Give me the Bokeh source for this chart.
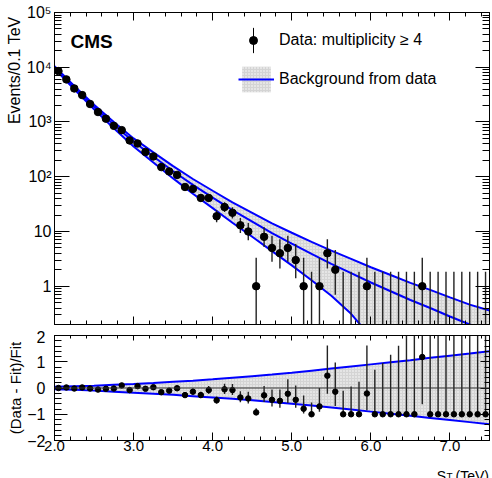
import numpy as np
from bokeh.plotting import figure
from bokeh.models import (Range1d, FixedTicker, LinearAxis, LogAxis, CustomJSTickFormatter,
                          PrintfTickFormatter, Label, Legend, LegendItem, ColumnDataSource, Span,
                          Title)
from bokeh.layouts import column
from bokeh.embed import file_html
from bokeh.resources import INLINE

FONT = "Liberation Sans"

# ---------------- data ----------------
bin_center = np.round(np.arange(2.05, 7.5, 0.1), 2)   # S_T bin centres, 0.1 TeV bins

counts = [8500, 6000, 4100, 3100, 2130, 1520, 1150, 850, 710, 460,
          405, 283, 235, 150, 125, 108, 65, 60, 41, 41,
          19, 28, 22, 13, 10, 1, 8, 5, 4, 5,
          3, 1, 0, 1, 4, 2, 0, 0, 0, 1,
          0, 0, 0, 0, 0, 0, 1, 0, 0, 0,
          0, 0, 0, 0, 0]
err_dn = [92, 77, 64, 56, 46, 39, 34, 29, 27, 21,
          20, 17, 15, 12, 11, 10, 8, 8, 6.4, 6.4,
          4.3, 5.3, 4.7, 3.6, 3.1, 0.83, 2.8, 2.2, 1.9, 2.2,
          1.6, 0.83, 0, 0.83, 1.9, 1.3, 0, 0, 0, 0.83,
          0, 0, 0, 0, 0, 0, 0.83, 0, 0, 0,
          0, 0, 0, 0, 0]
err_up = [92, 78, 65, 56, 47, 40, 34, 30, 27, 22,
          21, 17, 16, 13, 12, 11, 9, 8.8, 7.4, 7.4,
          5.4, 6.3, 5.7, 4.7, 4.3, 2.3, 4.0, 3.4, 3.2, 3.4,
          2.9, 2.3, 1.84, 2.3, 3.2, 2.6, 1.84, 1.84, 1.84, 2.3,
          1.84, 1.84, 1.84, 1.84, 1.84, 1.84, 2.3, 1.84, 1.84, 1.84,
          1.84, 1.84, 1.84, 1.84, 1.84]

ratio = [0.00, 0.02, -0.02, 0.02, -0.02, -0.06, -0.03, -0.02, 0.10, -0.08,
         0.07, -0.03, 0.03, -0.16, -0.10, -0.01, -0.27, -0.14, -0.27, -0.08,
         -0.47, -0.05, -0.08, -0.36, -0.40, -0.93, -0.28, -0.45, -0.49, -0.22,
         -0.45, -0.79, -1.00, -0.70, 0.47, -0.14, -1.00, -1.00, -1.00, -0.21,
         -1.00, -1.00, -1.00, -1.00, -1.00, -1.00, 1.18, -1.00, -1.00, -1.00,
         -1.00, -1.00, -1.00, -1.00, -1.00]
ratio_dn = [0.011, 0.013, 0.015, 0.018, 0.021, 0.024, 0.028, 0.033, 0.041, 0.042,
            0.053, 0.057, 0.066, 0.068, 0.08, 0.094, 0.09, 0.11, 0.11, 0.14,
            0.12, 0.18, 0.19, 0.18, 0.19, 0.06, 0.25, 0.25, 0.26, 0.35,
            0.30, 0.18, 0.0, 0.20, 0.69, 0.55, 0.0, 0.0, 0.0, 0.64,
            0.0, 0.0, 0.0, 0.0, 0.0, 0.0, 1.8, 0.0, 0.0, 0.0,
            0.0, 0.0, 0.0, 0.0, 0.0]
ratio_up = [0.011, 0.013, 0.015, 0.018, 0.021, 0.024, 0.028, 0.034, 0.042, 0.044,
            0.055, 0.058, 0.068, 0.072, 0.086, 0.10, 0.10, 0.12, 0.13, 0.16,
            0.15, 0.21, 0.23, 0.24, 0.26, 0.16, 0.36, 0.39, 0.43, 0.55,
            0.55, 0.50, 0.45, 0.70, 1.15, 1.11, 0.90, 1.06, 1.24, 1.83,
            1.70, 1.95, 2.27, 2.61, 3.0, 3.4, 5.2, 4.3, 4.9, 5.6,
            6.4, 7.3, 8.3, 9.4, 10.7]

fit_x = [2.0, 2.25, 2.5, 2.75, 3.0, 3.25, 3.5, 3.75, 4.0, 4.25, 4.5, 4.75,
         5.0, 5.25, 5.5, 5.75, 6.0, 6.25, 6.5, 6.75, 7.0, 7.25, 7.5]
fit_center = [10000, 4260, 1900, 890, 436, 234, 126, 71, 41.7, 24.5, 15.1, 9.3,
              6.0, 3.9, 2.57, 1.74, 1.17, 0.81, 0.56, 0.40, 0.28, 0.20, 0.15]
band_rel_up = [0.05, 0.07, 0.09, 0.12, 0.15, 0.19, 0.24, 0.28, 0.33, 0.39, 0.45, 0.51,
               0.58, 0.66, 0.74, 0.82, 0.90, 0.98, 1.06, 1.15, 1.23, 1.31, 1.40]
band_rel_dn = [-0.05, -0.07, -0.10, -0.14, -0.18, -0.22, -0.26, -0.31, -0.36, -0.41, -0.47, -0.53,
               -0.60, -0.67, -0.74, -0.82, -0.90, -0.98, -1.06, -1.14, -1.22, -1.30, -1.38]

x_major = [2, 3, 4, 5, 6, 7]
y_major = [1, 10, 100, 1000, 10000, 100000]
y_major_labels = ["1", "10", "10²", "10³", "10⁴", "10⁵"]
r_major = [-2, -1, 0, 1, 2]
r_major_labels = ["−2", "−1", "0", "1", "2"]

# ---------------- derived ----------------
cnt = np.array(counts, dtype=float)
src_pts = ColumnDataSource(dict(
    x=bin_center,
    y=np.where(cnt > 0, cnt, np.nan),
    lo=np.maximum(cnt - np.array(err_dn), 1e-3),
    hi=cnt + np.array(err_up)))
rat = np.array(ratio)
src_rat = ColumnDataSource(dict(
    x=bin_center, y=rat,
    lo=rat - np.array(ratio_dn), hi=rat + np.array(ratio_up)))

fc = np.array(fit_center)
ru = np.array(band_rel_up)
rl = np.array(band_rel_dn)
up_top = fc * (1 + ru)
lo_top = np.maximum(fc * (1 + rl), 1e-3)

x_minor = [round(2 + 0.2 * i, 2) for i in range(28) if i % 5 != 0]
y_minor = [m * 10.0 ** e for e in range(-1, 5) for m in range(2, 10)]
r_minor = [round(-2 + 0.2 * i, 2) for i in range(21) if i % 5 != 0]

BAND = "#d4d4d4"
BLUE = "#0000ff"
ERR = "#222222"
NOLABEL = CustomJSTickFormatter(code="return '';")


def style_axis(ax, major_in, minor_in, show=True, size="16px", standoff=3):
    ax.major_tick_in = major_in
    ax.major_tick_out = 0
    ax.minor_tick_in = minor_in
    ax.minor_tick_out = 0
    ax.axis_line_color = "black"
    ax.major_tick_line_color = "black"
    ax.minor_tick_line_color = "black"
    ax.major_label_text_font = FONT
    ax.major_label_text_color = "black"
    if show:
        ax.major_label_text_font_size = size
        ax.major_label_standoff = standoff
    else:
        ax.formatter = NOLABEL
        ax.major_label_text_font_size = "0px"
        ax.major_label_standoff = 0


def legend(items, loc, gw, gh, standoff):
    return Legend(items=items, location=loc, glyph_width=gw, glyph_height=gh,
                  label_standoff=standoff, padding=0, margin=0, spacing=0,
                  border_line_alpha=0, background_fill_alpha=0,
                  label_text_font=FONT, label_text_font_size="16px",
                  label_text_color="black")


# ---------------- top panel ----------------
p1 = figure(width=492, height=330, x_range=Range1d(2.0, 7.5), y_range=Range1d(0.2, 1e5),
            y_axis_type="log", output_backend="svg", toolbar_location=None, title=None,
            min_border_left=54, min_border_right=3, min_border_top=12, min_border_bottom=6)
p1.xgrid.visible = False
p1.ygrid.visible = False
p1.outline_line_color = "black"

xt = FixedTicker(ticks=x_major, minor_ticks=x_minor)
yt = FixedTicker(ticks=y_major, minor_ticks=y_minor)
yfmt = CustomJSTickFormatter(args=dict(vals=y_major, labs=y_major_labels), code="""
const i = vals.findIndex(v => Math.abs(v - tick) < 1e-6 * v);
return i >= 0 ? labs[i] : "";
""")
p1.xaxis.ticker = xt
style_axis(p1.xaxis[0], 8, 4, show=False)
p1.yaxis.ticker = yt
p1.yaxis.formatter = yfmt
style_axis(p1.yaxis[0], 15, 7, show=True, standoff=3)
ax = LinearAxis(ticker=xt)
style_axis(ax, 8, 4, show=False)
p1.add_layout(ax, "above")
ax = LogAxis(ticker=yt)
style_axis(ax, 14, 7, show=False)
p1.add_layout(ax, "right")

r_band = p1.varea(x=fit_x, y1=lo_top, y2=up_top, fill_color=BAND,
                  hatch_pattern="dot", hatch_color="white", hatch_scale=3, hatch_weight=1)
r_c = p1.line(fit_x, fc, line_color=BLUE, line_width=2)
p1.line(fit_x, up_top, line_color=BLUE, line_width=2)
p1.line(fit_x, lo_top, line_color=BLUE, line_width=2)

p1.segment(x0="x", y0="lo", x1="x", y1="hi", source=src_pts, line_color=ERR, line_width=1.4)
r_pts = p1.scatter("x", "y", source=src_pts, size=7.5, color="black")
# legend-only proxy (no data) drawn as a thin vertical bar in the legend
r_bar = p1.quad(left=[np.nan], right=[np.nan], top=[np.nan], bottom=[np.nan],
                fill_alpha=0, line_color="black", line_width=1.5)

p1.add_layout(legend([LegendItem(label=" ", renderers=[r_bar])], (198.5, 269), 1, 30, 0))
p1.add_layout(legend([LegendItem(label="Data: multiplicity ≥ 4", renderers=[r_pts])],
                     (189, 272), 20, 24, 16))
p1.add_layout(legend([LegendItem(label="Background from data", renderers=[r_band, r_c])],
                     (184, 229), 36, 32, 5))

p1.add_layout(Label(x=2.0, y=1e5, x_offset=16, y_offset=-29, text="CMS", text_font=FONT,
                    text_font_style="bold", text_font_size="19px", text_color="black",
                    text_baseline="alphabetic"))
p1.add_layout(Title(text="Events/0.1 TeV", align="right", text_font=FONT, text_font_size="16px",
                    text_font_style="normal", text_color="black", standoff=2, offset=4),
              "left")

# ---------------- ratio panel ----------------
p2 = figure(width=492, height=134, x_range=Range1d(2.0, 7.5), y_range=Range1d(-2, 2),
            output_backend="svg", toolbar_location=None, title=None,
            min_border_left=54, min_border_right=3, min_border_top=5, min_border_bottom=24)
p2.xgrid.visible = False
p2.ygrid.visible = False
p2.outline_line_color = "black"

rt = FixedTicker(ticks=r_major, minor_ticks=r_minor)
rfmt = CustomJSTickFormatter(args=dict(vals=r_major, labs=r_major_labels), code="""
const i = vals.findIndex(v => Math.abs(v - tick) < 1e-6);
return i >= 0 ? labs[i] : "";
""")
p2.xaxis.ticker = xt
p2.xaxis.formatter = PrintfTickFormatter(format="%.1f")
style_axis(p2.xaxis[0], 8, 4, show=True, size="15px", standoff=0)
p2.yaxis.ticker = rt
p2.yaxis.formatter = rfmt
style_axis(p2.yaxis[0], 13, 7, show=True, standoff=9)
ax = LinearAxis(ticker=xt)
style_axis(ax, 5, 3, show=False)
p2.add_layout(ax, "above")
ax = LinearAxis(ticker=rt)
style_axis(ax, 9, 5, show=False)
p2.add_layout(ax, "right")

p2.varea(x=fit_x, y1=rl, y2=ru, fill_color=BAND,
         hatch_pattern="dot", hatch_color="white", hatch_scale=3, hatch_weight=1)
p2.line(fit_x, ru, line_color=BLUE, line_width=2)
p2.line(fit_x, rl, line_color=BLUE, line_width=2)
p2.add_layout(Span(location=0, dimension="width", line_color="#333333", line_width=1))
p2.segment(x0="x", y0="lo", x1="x", y1="hi", source=src_rat, line_color=ERR, line_width=1.4)
p2.scatter("x", "y", source=src_rat, size=5.5, color="black")

p2.add_layout(Title(text="(Data - Fit)/Fit", align="center", text_font=FONT, text_font_size="15px",
                    text_font_style="normal", text_color="black", standoff=2),
              "left")

# ---------------- strip holding the x-axis title ----------------
p3 = figure(width=492, height=14, x_range=Range1d(2.0, 7.5), y_range=Range1d(0, 14),
            output_backend="svg", toolbar_location=None, title=None,
            x_axis_location=None, y_axis_location=None,
            min_border_left=54, min_border_right=3, min_border_top=0, min_border_bottom=0)
p3.xgrid.visible = False
p3.ygrid.visible = False
p3.outline_line_color = None
p3.add_layout(Label(x=7.5, y=3, x_offset=-0.5, text="(TeV)", text_font=FONT,
                    text_font_size="14px", text_color="black", text_align="right",
                    text_baseline="alphabetic"))
p3.add_layout(Label(x=7.5, y=1.2, x_offset=-37, text="T", text_font=FONT,
                    text_font_size="10px", text_color="black", text_align="right",
                    text_baseline="alphabetic"))
p3.add_layout(Label(x=7.5, y=3, x_offset=-43.5, text="S", text_font=FONT,
                    text_font_size="14px", text_color="black", text_align="right",
                    text_baseline="alphabetic"))

layout = column(p1, p2, p3)
open("out.html", "w").write(file_html(layout, INLINE))
